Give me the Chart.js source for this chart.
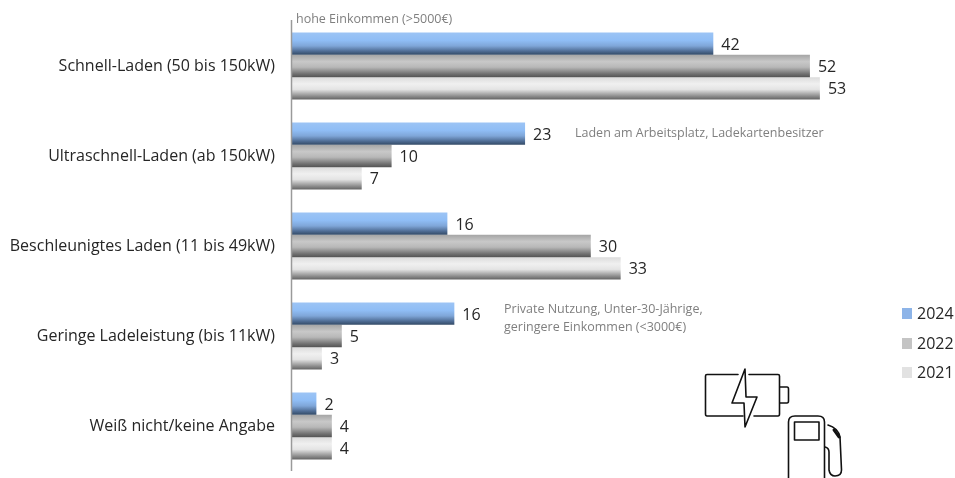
<!DOCTYPE html>
<html><head><meta charset="utf-8">
<style>html,body{margin:0;padding:0;background:#fff;overflow:hidden}#w{position:relative;width:955px;height:478px}</style>
<script src="https://cdn.jsdelivr.net/npm/chart.js@4"></script></head>
<body><div id="w"><canvas id="c" width="955" height="478"></canvas></div>
<script>
const categories=["Schnell-Laden (50 bis 150kW)","Ultraschnell-Laden (ab 150kW)","Beschleunigtes Laden (11 bis 49kW)","Geringe Ladeleistung (bis 11kW)","Weiß nicht/keine Angabe"];
const values2024=[42.3,23.4,15.6,16.3,2.45];
const values2022=[52,10,30,5,4];
const values2021=[53,7,33,3,4];
const FONT='"Open Sans", "Noto Sans", sans-serif';
const notes=[
 {t:"hohe Einkommen (>5000€)",x:296,y:19},
 {t:"Laden am Arbeitsplatz, Ladekartenbesitzer",x:575,y:133},
 {t:"Private Nutzung, Unter-30-Jährige,",x:504,y:309},
 {t:"geringere Einkommen (<3000€)",x:504,y:327}];
const legendItems=[["2024","#8DB4E8",313],["2022","#C4C4C4",343],["2021","#E2E2E2",372]];
const stops=[
 [[0,"#9cc4f5"],[.35,"#8fbdf5"],[.6,"#7fa6d8"],[.85,"#4d6a91"],[1,"#334a66"]],
 [[0,"#a6a6a6"],[.3,"#c8c8c8"],[.55,"#b8b8b8"],[.85,"#737373"],[1,"#555555"]],
 [[0,"#dcdcdc"],[.3,"#f0f0f0"],[.55,"#e4e4e4"],[.85,"#8f8f8f"],[1,"#666666"]]];
function grad(ctx){
 const ch=ctx.chart,di=ctx.datasetIndex;
 if(!ch.chartArea||ctx.dataIndex===undefined) return stops[di][1][1];
 const cy=ch.scales.y.getPixelForValue(ctx.dataIndex)+(di-1)*22.3;
 const g=ch.ctx.createLinearGradient(0,cy-11,0,cy+11);
 stops[di].forEach(s=>g.addColorStop(s[0],s[1]));
 return g;
}
const extras={id:"extras",afterDraw(ch){
 const c=ch.ctx;c.save();
 c.strokeStyle="#9a9a9a";c.lineWidth=1.5;c.beginPath();c.moveTo(291.5,20);c.lineTo(291.5,471);c.stroke();
 c.fillStyle="#7f7f7f";c.font="12.5px "+FONT;c.textBaseline="middle";c.textAlign="left";
 notes.forEach(n=>c.fillText(n.t,n.x,n.y));
 c.font="16px "+FONT;
 legendItems.forEach(l=>{c.fillStyle=l[1];c.fillRect(902,l[2]-5,10,11);c.fillStyle="#262626";c.fillText(l[0],917,l[2]+1);});
 c.strokeStyle="#111";c.lineWidth=1.6;c.lineJoin="round";c.lineCap="round";
 c.beginPath();c.moveTo(738,374.5);c.lineTo(707,374.5);c.quadraticCurveTo(705.5,374.5,705.5,376);c.lineTo(705.5,414);c.quadraticCurveTo(705.5,416,707,416);c.lineTo(743,416);
 c.moveTo(749,374.5);c.lineTo(778,374.5);c.quadraticCurveTo(779.5,374.5,779.5,376);c.lineTo(779.5,414);c.quadraticCurveTo(779.5,416,778,416);c.lineTo(754,416);c.stroke();
 c.beginPath();c.moveTo(780,387);c.lineTo(787,387);c.quadraticCurveTo(788.5,387,788.5,389);c.lineTo(788.5,401);c.quadraticCurveTo(788.5,403,787,403);c.lineTo(780,403);c.stroke();
 c.beginPath();c.moveTo(745,369);c.lineTo(732,403);c.lineTo(744,403);c.lineTo(745,427);c.lineTo(757,397);c.lineTo(746,397);c.closePath();c.stroke();
 c.beginPath();c.moveTo(788.5,478);c.lineTo(788.5,422);c.quadraticCurveTo(788.5,416,795,416);c.lineTo(818,416);c.quadraticCurveTo(824.5,416,824.5,422);c.lineTo(824.5,478);c.stroke();
 c.strokeRect(794.5,422,24.5,18);
 c.beginPath();c.moveTo(828,425);c.quadraticCurveTo(838,428,840,437);c.lineTo(841.5,470);c.quadraticCurveTo(841.5,476,835,476);c.quadraticCurveTo(830,476,829,470);c.lineTo(829,452);c.quadraticCurveTo(829,448,825,447);c.stroke();
 c.lineWidth=3;c.beginPath();c.moveTo(834,430);c.lineTo(839,437);c.stroke();
 c.restore();
}};
const labelPlugin={id:"vals",afterDatasetsDraw(ch){
 const c=ch.ctx;c.save();c.fillStyle="#262626";c.font="16px "+FONT;c.textBaseline="middle";c.textAlign="left";
 ch.data.datasets.forEach((d,i)=>ch.getDatasetMeta(i).data.forEach((b,j)=>c.fillText(String(Math.round(d.data[j])),b.x+8,b.y+1.5)));
 c.restore();
}};
new Chart(document.getElementById("c"),{
 type:"bar",
 data:{labels:categories,datasets:[
  {label:"2024",data:values2024,backgroundColor:grad},
  {label:"2022",data:values2022,backgroundColor:grad},
  {label:"2021",data:values2021,backgroundColor:grad}]},
 plugins:[labelPlugin,extras],
 options:{indexAxis:"y",responsive:false,animation:false,
  layout:{padding:{top:21,bottom:7,right:65.4,left:0}},
  datasets:{bar:{categoryPercentage:66.9/90,barPercentage:1}},
  plugins:{legend:{display:false},tooltip:{enabled:false}},
  scales:{
   x:{display:false,min:0,max:60,grid:{display:false}},
   y:{afterFit(s){s.width=292;s.paddingTop=0;s.paddingBottom=0;},border:{display:false},grid:{display:false,drawTicks:false},
      ticks:{color:"#262626",font:{family:FONT,size:16},padding:17}}
  }}
});
</script></body></html>
